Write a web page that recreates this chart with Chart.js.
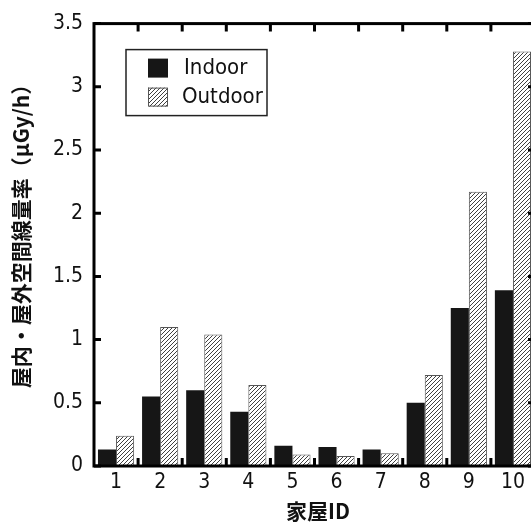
<!DOCTYPE html>
<html>
<head>
<meta charset="utf-8">
<script src="https://cdn.jsdelivr.net/npm/chart.js@4"></script>
<style>
html,body{margin:0;padding:0;background:#fff;overflow:hidden;width:531px;height:526px;}
#wrap{position:relative;width:545px;height:526px;}
</style>
</head>
<body>
<div id="wrap"><canvas id="c" width="545" height="526"></canvas></div>
<script>
const categories = ['1','2','3','4','5','6','7','8','9','10'];
const indoorValues = [0.13, 0.55, 0.60, 0.43, 0.16, 0.15, 0.13, 0.50, 1.25, 1.39];
const outdoorValues = [0.24, 1.10, 1.04, 0.64, 0.09, 0.08, 0.10, 0.72, 2.17, 3.28];
const seriesLabels = ['Indoor', 'Outdoor'];
const yTickLabels = ['0', '0.5', '1', '1.5', '2', '2.5', '3', '3.5'];
const xTitle = '家屋ID';
const yTitle = '屋内・屋外空間線量率（μGy/h）';

const NUM_FONT = "'Liberation Sans Narrow','DejaVu Sans Condensed','Liberation Sans',sans-serif";
const LEG_FONT = "'Liberation Sans Narrow','DejaVu Sans Condensed','Liberation Sans',sans-serif";
const CJK_FONT = "'Noto Sans CJK JP','Noto Sans CJK SC',sans-serif";

function makeHatch() {
  const p = document.createElement('canvas');
  p.width = 4; p.height = 4;
  const g = p.getContext('2d');
  g.fillStyle = '#fff';
  g.fillRect(0, 0, 4, 4);
  g.strokeStyle = '#2a2a2a';
  g.lineWidth = 0.9;
  g.beginPath();
  g.moveTo(0, 4); g.lineTo(4, 0);
  g.moveTo(-1, 1); g.lineTo(1, -1);
  g.moveTo(3, 5); g.lineTo(5, 3);
  g.stroke();
  return document.getElementById('c').getContext('2d').createPattern(p, 'repeat');
}
const hatch = makeHatch();
const indoorFill = '#161616';

const framePlugin = {
  id: 'frame',
  afterDatasetsDraw(chart) {
    const ctx = chart.ctx;
    const a = chart.chartArea;
    const ys = chart.scales.y, xs = chart.scales.x;
    ctx.save();
    ctx.strokeStyle = '#000';
    ctx.lineWidth = 3;
    ctx.lineCap = 'butt';
    ctx.beginPath();
    for (let i = 0; i < yTickLabels.length; i++) {
      const py = ys.getPixelForValue(parseFloat(yTickLabels[i]));
      ctx.moveTo(a.left, py); ctx.lineTo(a.left + 7, py);
      ctx.moveTo(a.right, py); ctx.lineTo(a.right - 7, py);
    }
    for (let i = 0; i < categories.length - 1; i++) {
      const px = (xs.getPixelForValue(i) + xs.getPixelForValue(i + 1)) / 2;
      ctx.moveTo(px, a.bottom); ctx.lineTo(px, a.bottom - 8);
      ctx.moveTo(px, a.top); ctx.lineTo(px, a.top + 8);
    }
    ctx.stroke();
    ctx.strokeRect(a.left, a.top, a.right - a.left, a.bottom - a.top);

    // legend box
    const lx = a.left + 32, ly = a.top + 26, lw = 141, lh = 66;
    ctx.lineWidth = 1.5;
    ctx.strokeStyle = '#222';
    ctx.fillStyle = '#fff';
    ctx.fillRect(lx, ly, lw, lh);
    ctx.strokeRect(lx, ly, lw, lh);
    const fills = [indoorFill, hatch];
    for (let i = 0; i < seriesLabels.length; i++) {
      const sy = ly + 9 + i * 29;
      ctx.fillStyle = fills[i];
      ctx.fillRect(lx + 22, sy, 20, 19);
      if (i === 1) { ctx.lineWidth = 1; ctx.strokeStyle = '#555'; ctx.strokeRect(lx + 22.5, sy + 0.5, 19, 18); }
      ctx.fillStyle = '#111';
      ctx.font = '22px ' + LEG_FONT;
      ctx.textBaseline = 'middle';
      ctx.textAlign = 'left';
      ctx.fillText(seriesLabels[i], lx + 58 - i * 2, sy + 10);
    }

    // titles
    ctx.fillStyle = '#111';
    ctx.font = 'bold 21px ' + CJK_FONT;
    ctx.textAlign = 'center';
    ctx.textBaseline = 'middle';
    ctx.fillText(xTitle, 318, 511);
    ctx.save();
    ctx.translate(21, 231);
    ctx.rotate(-Math.PI / 2);
    ctx.font = 'bold 21px ' + CJK_FONT;
    ctx.fillText(yTitle, 0, 0);
    ctx.restore();
    ctx.restore();
  }
};

new Chart(document.getElementById('c'), {
  type: 'bar',
  data: {
    labels: categories,
    datasets: [
      { label: seriesLabels[0], data: indoorValues, backgroundColor: indoorFill, borderWidth: 0 },
      { label: seriesLabels[1], data: outdoorValues, backgroundColor: hatch, borderColor: '#555', borderWidth: 1 }
    ]
  },
  plugins: [framePlugin],
  options: {
    responsive: false,
    animation: false,
    devicePixelRatio: 1,
    layout: { padding: { left: 0, right: 10, top: 20, bottom: 0 } },
    plugins: { legend: { display: false }, tooltip: { enabled: false } },
    datasets: { bar: { categoryPercentage: 0.82, barPercentage: 1.0 } },
    scales: {
      x: {
        grid: { display: false, drawTicks: false },
        border: { display: false },
        ticks: { color: '#111', font: { family: NUM_FONT, size: 21 }, padding: 4, maxRotation: 0 },
        afterFit(s) { s.height = 60; }
      },
      y: {
        min: 0, max: 3.5,
        grid: { display: false, drawTicks: false },
        border: { display: false },
        ticks: {
          stepSize: 0.5, color: '#111', padding: 11,
          font: { family: NUM_FONT, size: 21 },
          callback: (v) => { const i = Math.round(v / 0.5); return yTickLabels[i]; }
        },
        afterFit(s) { s.width = 94; }
      }
    }
  }
});
</script>
</body>
</html>
